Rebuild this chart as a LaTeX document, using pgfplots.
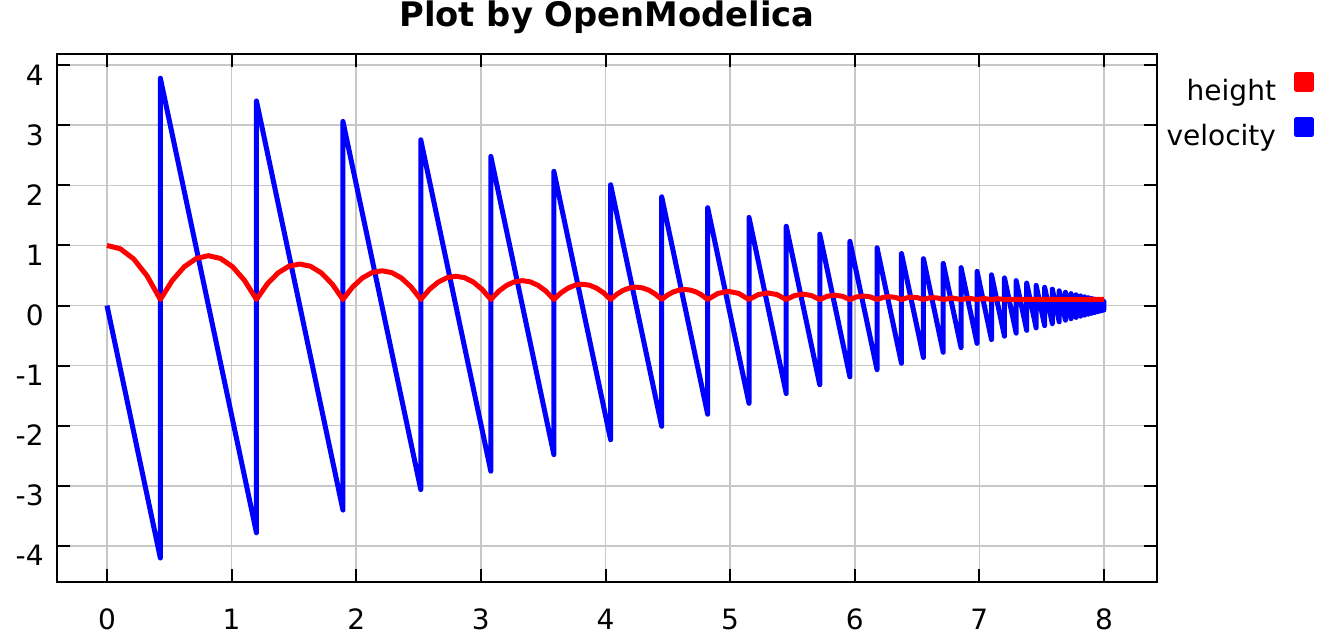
\documentclass[border=0pt]{standalone}
\usepackage{pgfplots}
\pgfplotsset{compat=1.18}
\usepackage{fontspec}
\setmainfont{DejaVu Sans}
\begin{document}
\begin{tikzpicture}
\path[use as bounding box] (0,0) rectangle (658.5pt,317pt);
\begin{axis}[
  at={(28.5pt,26pt)}, anchor=south west,
  scale only axis, width=550pt, height=264pt,
  xmin=-0.401, xmax=8.425, ymin=-4.601, ymax=4.185,
  xtick={0,1,2,3,4,5,6,7,8}, ytick={-4,-3,-2,-1,0,1,2,3,4},
  grid=major, grid style={color=black!22, line width=0.8pt},
  axis line style={line width=1pt, black},
  tick style={black, line width=1pt}, tick align=inside, major tick length=6.5pt,
  xtick pos=both, ytick pos=both,
  /pgf/number format/assume math mode=true,
  ticklabel style={font=\fontsize{14}{16}\selectfont, inner sep=0pt},
  xticklabel style={anchor=base, yshift=-23.5pt},
  yticklabel style={anchor=base east, xshift=-6.5pt, yshift=-10pt},
  title={Plot by OpenModelica},
  title style={font=\fontsize{16.9}{20}\selectfont\bfseries, anchor=base, yshift=8pt, inner sep=0pt},
  reverse legend,
  legend plot pos=right,
  legend cell align=right,
  legend style={draw=none, fill=none, inner sep=0pt, outer sep=0pt,
    at={(1.1427,0.9665)}, anchor=north east,
    font=\fontsize{14}{16}\selectfont,
    nodes={inner sep=0pt, text height=10.5pt, text depth=3.5pt},
    row sep=5pt, column sep=9pt},
]
\addplot[blue, line width=2.5pt, line join=round,
  legend image code/.code={\fill[blue] (0pt,2pt) rectangle (7.5pt,9.5pt);}]
coordinates {
(0,0) (0.42835,-4.2021) (0.42835,3.7819) (1.19938,-3.7819) (1.19938,3.4037)
(1.89330,-3.4037) (1.89330,3.0633) (2.51783,-3.0633) (2.51783,2.7570)
(3.07991,-2.7570) (3.07991,2.4813) (3.58578,-2.4813) (3.58578,2.2332)
(4.04106,-2.2332) (4.04106,2.0099) (4.45081,-2.0099) (4.45081,1.8089)
(4.81959,-1.8089) (4.81959,1.6280) (5.15149,-1.6280) (5.15149,1.4652)
(5.45020,-1.4652) (5.45020,1.3187) (5.71904,-1.3187) (5.71904,1.1868)
(5.96100,-1.1868) (5.96100,1.0681) (6.17876,-1.0681) (6.17876,0.9613)
(6.37475,-0.9613) (6.37475,0.8652) (6.55114,-0.8652) (6.55114,0.7787)
(6.70989,-0.7787) (6.70989,0.7008) (6.85276,-0.7008) (6.85276,0.6307)
(6.98135,-0.6307) (6.98135,0.5676) (7.09708,-0.5676) (7.09708,0.5109)
(7.20123,-0.5109) (7.20123,0.4598) (7.29497,-0.4598) (7.29497,0.4138)
(7.37934,-0.4138) (7.37934,0.3724) (7.45527,-0.3724) (7.45527,0.3352)
(7.52361,-0.3352) (7.52361,0.3017) (7.58511,-0.3017) (7.58511,0.2715)
(7.64046,-0.2715) (7.64046,0.2443) (7.69028,-0.2443) (7.69028,0.2199)
(7.73512,-0.2199) (7.73512,0.1979) (7.77547,-0.1979) (7.77547,0.1781)
(7.81179,-0.1781) (7.81179,0.1603) (7.84448,-0.1603) (7.84448,0.1443)
(7.87390,-0.1443) (7.87390,0.1299) (7.90038,-0.1299) (7.90038,0.1169)
(7.92421,-0.1169) (7.92421,0.1052) (7.94566,-0.1052) (7.94566,0.0947)
(7.96496,-0.0947) (7.96496,0.0852) (7.98233,-0.0852) (7.98233,0.0767)
(7.99796,-0.0767) (7.99796,0.0690) (8,0.049)
};
\addlegendentry{velocity}
\addplot[red, line width=2.5pt, line join=round,
  legend image code/.code={\fill[red] (0pt,2pt) rectangle (7.5pt,9.5pt);}]
coordinates {
(0,1.0) (0.10709,0.94375) (0.21418,0.775) (0.32126,0.49375) (0.42835,0.1)
(0.52473,0.4189) (0.62111,0.6468) (0.71749,0.7834) (0.81387,0.829) (0.91024,0.7834) (1.00662,0.6468) (1.10300,0.4189) (1.19938,0.1)
(1.28612,0.3583) (1.37286,0.5429) (1.45960,0.6536) (1.54634,0.6905) (1.63308,0.6536) (1.71982,0.5429) (1.80656,0.3583) (1.89330,0.1)
(1.97137,0.3093) (2.04943,0.4587) (2.12750,0.5484) (2.20557,0.5783) (2.28363,0.5484) (2.36170,0.4587) (2.43976,0.3093) (2.51783,0.1)
(2.58809,0.2695) (2.65835,0.3906) (2.72861,0.4632) (2.79887,0.4874) (2.86913,0.4632) (2.93939,0.3906) (3.00965,0.2695) (3.07991,0.1)
(3.14314,0.2373) (3.20638,0.3354) (3.26961,0.3942) (3.33285,0.4138) (3.39608,0.3942) (3.45931,0.3354) (3.52255,0.2373) (3.58578,0.1)
(3.64269,0.2112) (3.69960,0.2906) (3.75651,0.3383) (3.81342,0.3542) (3.87033,0.3383) (3.92724,0.2906) (3.98415,0.2112) (4.04106,0.1)
(4.09228,0.1901) (4.14350,0.2544) (4.19472,0.2930) (4.24594,0.3059) (4.29715,0.2930) (4.34837,0.2544) (4.39959,0.1901) (4.45081,0.1)
(4.49691,0.1730) (4.54301,0.2251) (4.58910,0.2563) (4.63520,0.2668) (4.68130,0.2563) (4.72740,0.2251) (4.77350,0.1730) (4.81959,0.1)
(4.90257,0.2013) (4.98554,0.2351) (5.06852,0.2013) (5.15149,0.1)
(5.22617,0.1821) (5.30085,0.2094) (5.37552,0.1821) (5.45020,0.1)
(5.51741,0.1665) (5.58462,0.1886) (5.65183,0.1665) (5.71904,0.1)
(5.77953,0.1538) (5.84002,0.1718) (5.90051,0.1538) (5.96100,0.1)
(6.01544,0.1436) (6.06988,0.1582) (6.12432,0.1436) (6.17876,0.1)
(6.22776,0.1353) (6.27676,0.1471) (6.32575,0.1353) (6.37475,0.1)
(6.41885,0.1286) (6.46295,0.1382) (6.50704,0.1286) (6.55114,0.1)
(6.59083,0.1232) (6.63052,0.1309) (6.67020,0.1232) (6.70989,0.1)
(6.78133,0.1250) (6.85276,0.1)
(6.91706,0.1203) (6.98135,0.1)
(7.03922,0.1164) (7.09708,0.1)
(7.14916,0.1133) (7.20123,0.1)
(8,0.1)
};
\addlegendentry{height}
\end{axis}
\end{tikzpicture}
\end{document}
